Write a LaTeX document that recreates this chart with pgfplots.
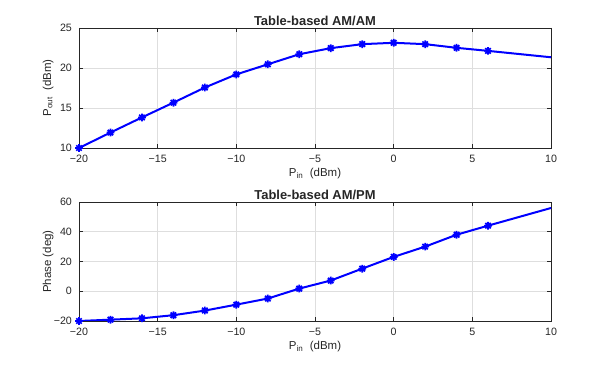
\documentclass[border=0pt]{standalone}
\usepackage{fontspec}
\setmainfont{Liberation Sans}
\usepackage{pgfplots}
\pgfplotsset{compat=1.18}
\definecolor{axgray}{rgb}{0.15,0.15,0.15}
\definecolor{gridgray}{rgb}{0.87,0.87,0.87}
\pgfdeclareplotmark{mstar}{%
 \pgfpathmoveto{\pgfqpoint{-\pgfplotmarksize}{0pt}}\pgfpathlineto{\pgfqpoint{\pgfplotmarksize}{0pt}}%
 \pgfpathmoveto{\pgfqpoint{0pt}{-\pgfplotmarksize}}\pgfpathlineto{\pgfqpoint{0pt}{\pgfplotmarksize}}%
 \pgfpathmoveto{\pgfqpoint{-0.707\pgfplotmarksize}{-0.707\pgfplotmarksize}}\pgfpathlineto{\pgfqpoint{0.707\pgfplotmarksize}{0.707\pgfplotmarksize}}%
 \pgfpathmoveto{\pgfqpoint{-0.707\pgfplotmarksize}{0.707\pgfplotmarksize}}\pgfpathlineto{\pgfqpoint{0.707\pgfplotmarksize}{-0.707\pgfplotmarksize}}%
 \pgfusepathqstroke}
\pgfplotstableread{
x y
-20 10.0
-18 11.93
-16 13.82
-14 15.67
-12 17.56
-10 19.2
-8 20.46
-6 21.72
-4 22.48
-2 22.98
0 23.15
2 22.98
4 22.52
6 22.14
10 21.34
}\amam
\pgfplotstableread{
x y
-20 -20.0
-18 -19.1
-16 -18.2
-14 -16.1
-12 -13.0
-10 -9.0
-8 -4.9
-6 1.8
-4 7.2
-2 15.2
0 23.1
2 30.0
4 38.0
6 44.1
10 55.97
}\ampm
\pgfplotsset{
 mstyle/.style={
  scale only axis, width=354pt, anchor=south west,
  xmin=-20, xmax=10, xtick={-20,-15,...,10},
  xticklabels={−20,−15,−10,−5,0,5,10},
  grid=major, major grid style={gridgray, line width=0.5pt},
  axis line style={axgray, line width=0.6pt},
  tick style={axgray, line width=0.5pt}, major tick length=3pt,
  tick align=inside, tick pos=both,
  ticklabel style={font=\fontsize{8}{9}\selectfont, text=axgray},
  xticklabel style={anchor=base, yshift=-11.25pt},
  yticklabel style={anchor=east, xshift=-1.8pt},
  xlabel style={font=\fontsize{8.6}{10}\selectfont, text=axgray, at={(axis description cs:0.5,-0.2417)}, anchor=base},
  ylabel style={font=\fontsize{8.6}{10}\selectfont, text=axgray, at={(axis description cs:-0.0593,0.5)}, anchor=base},
  every axis title shift=0pt,
  title style={font=\bfseries\fontsize{9.7}{11}\selectfont, text=black!85, at={(axis description cs:0.5,1)}, anchor=base, yshift=2.2pt},
  xlabel={P\textsubscript{in}\ \ (dBm)},
 },
 mline/.style={blue, line width=1.5pt, mark=mstar, mark size=2.9pt, mark indices={1,2,3,4,5,6,7,8,9,10,11,12,13,14}, mark options={line width=1.3pt, solid}},
}
\begin{document}
\begin{tikzpicture}
\path[use as bounding box] (0,0) rectangle (457.5pt,275.25pt);
\begin{axis}[mstyle, at={(59.25pt,164.25pt)}, height=90pt,
  ymin=10, ymax=25, ytick={10,15,20,25},
  yticklabels={10,15,20,25},
  title={Table-based AM/AM},
  ylabel={P\textsubscript{out}\ \ (dBm)}]
\addplot[mline] table[x=x,y=y] {\amam};
\end{axis}
\begin{axis}[mstyle, at={(59.25pt,34.5pt)}, height=89.25pt,
  ymin=-20, ymax=60, ytick={-20,0,20,40,60},
  yticklabels={−20,0,20,40,60},
  title={Table-based AM/PM},
  ylabel={Phase (deg)}]
\addplot[mline] table[x=x,y=y] {\ampm};
\end{axis}
\end{tikzpicture}
\end{document}
